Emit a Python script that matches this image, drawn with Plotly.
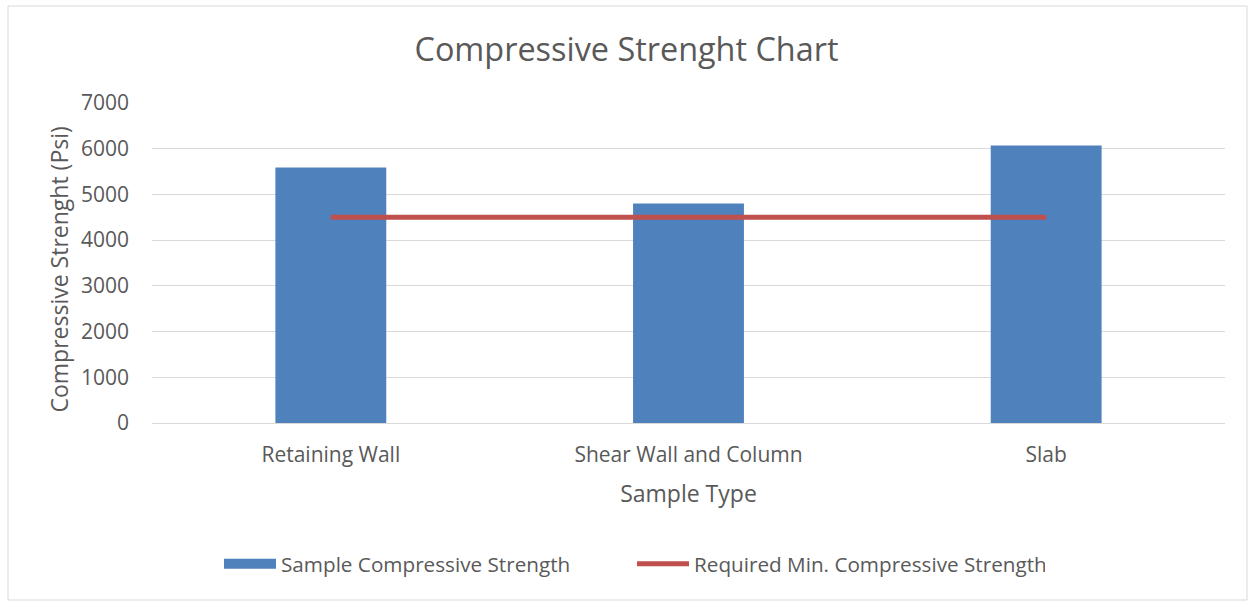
import plotly.graph_objects as go

categories = ["Retaining Wall", "Shear Wall and Column", "Slab"]
sample_strength = [5590, 4800, 6070]
required_min = [4500, 4500, 4500]
y_ticks = [0, 1000, 2000, 3000, 4000, 5000, 6000, 7000]

FONT = "Open Sans"
TXT = "#595959"
BLUE = "#4F81BD"
RED = "#C0504D"

fig = go.Figure()
fig.add_trace(go.Bar(
    x=categories, y=sample_strength, name="Sample Compressive Strength",
    marker=dict(color=BLUE, line=dict(width=0)), width=0.31, showlegend=False,
    legendgroup="bar",
))
# legend proxy so the swatch is a wide rectangle like the original
fig.add_trace(go.Scatter(
    x=[None], y=[None], name="Sample Compressive Strength", mode="lines",
    line=dict(color=BLUE, width=14), legendgroup="bar", hoverinfo="skip",
))
fig.add_trace(go.Scatter(
    x=categories, y=required_min, name="Required Min. Compressive Strength",
    mode="lines", line=dict(color=RED, width=5),
))

fig.update_layout(
    width=1253, height=605,
    margin=dict(l=152, r=28, t=103, b=182),
    paper_bgcolor="white", plot_bgcolor="white",
    font=dict(family=FONT, color=TXT, size=18),
    title=dict(text="Compressive Strenght Chart", x=0.5, xanchor="center",
               y=0.918, yanchor="middle", font=dict(size=32.4, color=TXT, family=FONT)),
    showlegend=True,
    legend=dict(orientation="h", x=(632 - 152) / 1073, xanchor="center", y=-0.44, yanchor="middle",
                font=dict(size=20.7, color=TXT), itemwidth=52, tracegroupgap=0,
                entrywidth=346, entrywidthmode="pixels"),
    xaxis=dict(title=dict(text="Sample Type", font=dict(size=23, color=TXT), standoff=18),
               tickfont=dict(size=21, color=TXT), showgrid=False, showline=True,
               linecolor="#D9D9D9", linewidth=1, ticks="", ticklabelstandoff=13),
    yaxis=dict(range=[0, 7000], tickvals=y_ticks, tickfont=dict(size=21, color=TXT),
               showgrid=True, gridcolor="#D9D9D9", gridwidth=1, zeroline=False,
               showline=False, ticks="", ticklabelstandoff=22),
    annotations=[dict(text="Compressive Strenght (Psi)", textangle=-90, showarrow=False,
                      xref="paper", yref="paper", x=(58 - 152) / 1073, y=(423.5 - 270) / 320,
                      xanchor="center", yanchor="middle", font=dict(size=23, color=TXT))],
    shapes=[dict(type="rect", xref="paper", yref="paper",
                 x0=-144/1073, x1=1+22/1073, y0=-177/320, y1=1+97/320,
                 line=dict(color="#D9D9D9", width=1), fillcolor="rgba(0,0,0,0)")],
)

fig.write_html("out.html")
